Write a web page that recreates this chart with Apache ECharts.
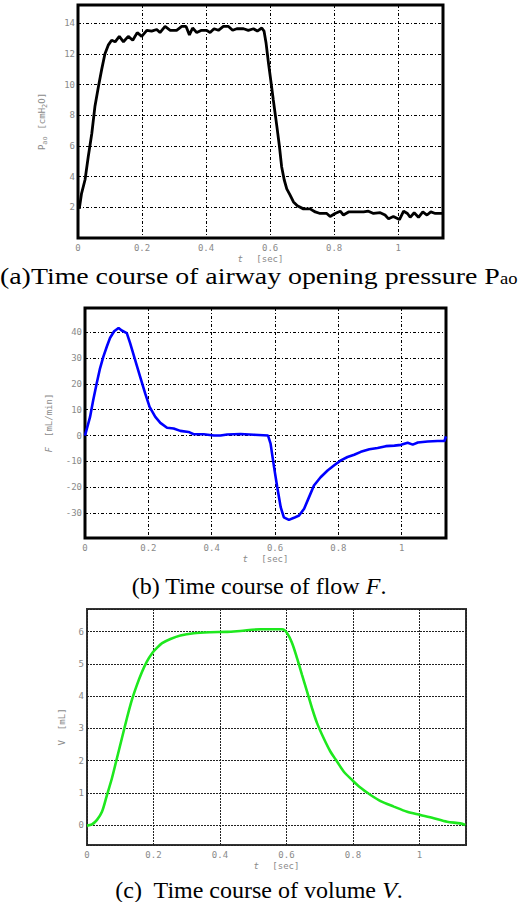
<!DOCTYPE html>
<html>
<head>
<meta charset="utf-8">
<script src="https://cdn.jsdelivr.net/npm/echarts@6/dist/echarts.min.js"></script>
<style>
html,body{margin:0;padding:0;background:#fff;}
#c{width:518px;height:902px;}
</style>
</head>
<body>
<div id="c"></div>
<script>
// ---- data ----
const xTicks = ['0', '0.2', '0.4', '0.6', '0.8', '1'];
// (a) airway opening pressure
const tA = [0.004,0.011,0.022,0.032,0.043,0.053,0.064,0.074,0.084,0.095,0.105,0.116,0.129,0.142,0.157,0.171,0.185,0.199,0.215,0.230,0.246,0.256,0.272,0.288,0.308,0.324,0.3375,0.348,0.358,0.371,0.386,0.402,0.4125,0.425,0.4385,0.454,0.470,0.483,0.496,0.517,0.532,0.548,0.560,0.574,0.581,0.5875,0.595,0.602,0.610,0.621,0.629,0.636,0.644,0.652,0.6625,0.673,0.685,0.704,0.725,0.741,0.756,0.777,0.7875,0.803,0.819,0.829,0.845,0.866,0.892,0.907,0.923,0.944,0.959,0.970,0.985,1.004,1.017,1.029,1.0375,1.050,1.0635,1.077,1.090,1.102,1.116,1.137];
const pA = [1.9,2.9,3.8,5.3,6.8,8.6,9.9,11.0,12.0,12.6,12.9,12.8,13.15,12.8,13.15,12.9,13.4,13.15,13.55,13.5,13.6,13.4,13.8,13.55,13.55,13.8,13.8,13.25,13.7,13.4,13.55,13.55,13.4,13.65,13.55,13.8,13.8,13.55,13.65,13.65,13.55,13.65,13.5,13.7,13.5,12.7,11.4,10.3,9.0,7.3,6.0,4.65,3.8,3.2,2.8,2.35,2.1,1.9,1.9,1.7,1.6,1.6,1.4,1.6,1.75,1.5,1.7,1.7,1.7,1.75,1.6,1.65,1.5,1.25,1.4,1.2,1.75,1.6,1.35,1.65,1.35,1.7,1.5,1.7,1.6,1.6];
// (b) flow
const tB = [0,0.016,0.026,0.037,0.0475,0.058,0.069,0.079,0.092,0.106,0.116,0.132,0.1425,0.158,0.174,0.190,0.204,0.222,0.238,0.259,0.280,0.301,0.327,0.343,0.375,0.407,0.428,0.449,0.491,0.533,0.578,0.586,0.597,0.607,0.618,0.628,0.644,0.660,0.676,0.692,0.7075,0.723,0.744,0.766,0.787,0.808,0.829,0.850,0.871,0.898,0.924,0.950,0.977,0.998,1.019,1.035,1.051,1.082,1.114,1.135,1.140];
const fB = [0,7.2,13.7,20.2,26,30.5,34.4,37.7,40.3,41.6,40.6,39.6,35.7,29.3,22.8,16.3,11.1,7.2,4.9,3.0,2.7,1.8,1.4,0.5,0.5,0,0,0.4,0.6,0.3,0,-3.1,-12.2,-19.9,-27.7,-31.6,-32.6,-31.8,-30.9,-28.3,-23.8,-19.3,-16.1,-13.5,-11.5,-9.6,-8.3,-7.4,-6.3,-5.3,-4.8,-4.1,-3.9,-3.6,-2.8,-3.5,-2.7,-2.3,-2.1,-2.1,-0.3];
// (c) volume
const tC = [0,0.015,0.030,0.045,0.060,0.075,0.090,0.105,0.120,0.135,0.150,0.165,0.180,0.196,0.211,0.226,0.251,0.281,0.321,0.371,0.421,0.461,0.522,0.587,0.602,0.617,0.632,0.647,0.662,0.677,0.692,0.712,0.732,0.752,0.772,0.797,0.822,0.853,0.883,0.923,0.963,1.003,1.043,1.083,1.123,1.138];
const vC = [-0.02,0.02,0.16,0.41,0.93,1.45,2.07,2.69,3.31,3.88,4.34,4.74,5.07,5.33,5.50,5.64,5.77,5.88,5.95,5.98,5.99,6.02,6.07,6.07,5.95,5.64,5.17,4.65,4.14,3.62,3.16,2.69,2.28,1.97,1.66,1.40,1.16,0.93,0.74,0.57,0.41,0.31,0.21,0.10,0.05,0];

const zip = (a, b) => a.map((v, i) => [v, b[i]]);

const chart = echarts.init(document.getElementById('c'), null, {renderer: 'svg', width: 518, height: 902});
const MONO = "'DejaVu Sans Mono', 'Liberation Mono', monospace";
const LBL = '#8a8a8a';
const gridDash = {color: '#000', width: 1, type: [3, 2, 1, 2]};
const gridDashC = {color: '#222', width: 1, type: [2, 1]};
const nameRich = {
  n: {fontFamily: MONO, fontSize: 9, color: LBL},
  i: {fontFamily: MONO, fontSize: 9, color: LBL, fontStyle: 'italic'},
  s: {fontFamily: MONO, fontSize: 7, color: LBL, verticalAlign: 'bottom', padding: [6, 0, 0, 0]}
};

function xAx(gi, dash) {
  return {
    type: 'value', gridIndex: gi, min: 0, max: 1.14, minInterval: 0.2, maxInterval: 0.2,
    axisLine: {show: false}, axisTick: {show: false},
    splitLine: {show: true, lineStyle: dash},
    axisLabel: {showMaxLabel: false, color: LBL, fontFamily: MONO, fontSize: 9, margin: 5,
      formatter: v => { const s = (Math.round(v * 10) / 10).toString(); return xTicks.indexOf(s) >= 0 ? s : ''; }},
    name: '{i|t}    {n|[sec]}', nameLocation: 'middle', nameGap: 13,
    nameTextStyle: {rich: nameRich}
  };
}
function yAx(gi, min, max, step, dash, name, gap, hideMin) {
  return {
    type: 'value', gridIndex: gi, min: min, max: max, minInterval: step, maxInterval: step,
    axisLine: {show: false}, axisTick: {show: false},
    splitLine: {show: true, lineStyle: dash},
    axisLabel: {showMaxLabel: false, showMinLabel: !hideMin, color: LBL, fontFamily: MONO, fontSize: 9, margin: 3},
    name: name, nameLocation: 'middle', nameRotate: 90, nameGap: gap,
    nameTextStyle: {rich: nameRich}
  };
}

const serif = "'Liberation Serif', 'Times New Roman', 'DejaVu Serif', serif";
const capRich = {
  r: {fontFamily: serif, fontSize: 24, fontWeight: 'normal', fill: '#000', color: '#000', lineHeight: 22},
  it: {fontFamily: serif, fontSize: 24, fontWeight: 'normal', fill: '#000', color: '#000', fontStyle: 'italic', lineHeight: 22},
  sub: {fontFamily: serif, fontSize: 16, fontWeight: 'normal', fill: '#000', color: '#000', verticalAlign: 'bottom', lineHeight: 22, padding: [10, 0, 0, 0]}
};
const capStyle = {fontFamily: serif, fontWeight: 'normal', fontSize: 24, rich: capRich};

chart.setOption({
  animation: false,
  backgroundColor: '#fff',
  title: [
    {text: '{r|(b) Time course of flow }{it|F}{r|.}', left: 'center', top: 575, padding: 0, textStyle: capStyle},
    {text: '{r|(c)  Time course of volume }{it|V}{r|.}', left: 'center', top: 879, padding: 0, textStyle: capStyle}
  ],
  graphic: [
    {type: 'text', x: 0, y: 265, scaleX: 1.16, originX: 0,
     style: {text: '{r|(a)Time course of airway opening pressure P}{sub|ao}', rich: capRich, fill: '#000',
             font: "24px 'Liberation Serif', serif"}}
  ],
  grid: [
    {left: 78, top: 5, width: 365, height: 233, show: true, borderColor: '#000', borderWidth: 3, backgroundColor: 'transparent'},
    {left: 85, top: 308, width: 361, height: 230, show: true, borderColor: '#000', borderWidth: 3, backgroundColor: 'transparent'},
    {left: 87, top: 609, width: 379, height: 236, show: true, borderColor: '#333', borderWidth: 2, backgroundColor: 'transparent'}
  ],
  xAxis: [xAx(0, gridDash), xAx(1, gridDash), xAx(2, gridDashC)],
  yAxis: [
    yAx(0, 0, 15.2, 2, gridDash, '{n|P}{s|ao}  {n|[cmH}{s|2}{n|O]}', 30, true),
    yAx(1, -39.6, 49.3, 10, gridDash, '{i|F}   {n|[mL/min]}', 30, true),
    yAx(2, -0.62, 6.7, 1, gridDashC, '{n|V}   {n|[mL]}', 17, true)
  ],
  series: [
    {type: 'line', xAxisIndex: 0, yAxisIndex: 0, data: zip(tA, pA), showSymbol: false, lineStyle: {color: '#000', width: 2.8}},
    {type: 'line', xAxisIndex: 1, yAxisIndex: 1, data: zip(tB, fB), showSymbol: false, lineStyle: {color: '#0000ff', width: 2.6}},
    {type: 'line', xAxisIndex: 2, yAxisIndex: 2, data: zip(tC, vC), showSymbol: false, smooth: 0.3, lineStyle: {color: '#1ee81e', width: 2.6}}
  ]
});
</script>
</body>
</html>
